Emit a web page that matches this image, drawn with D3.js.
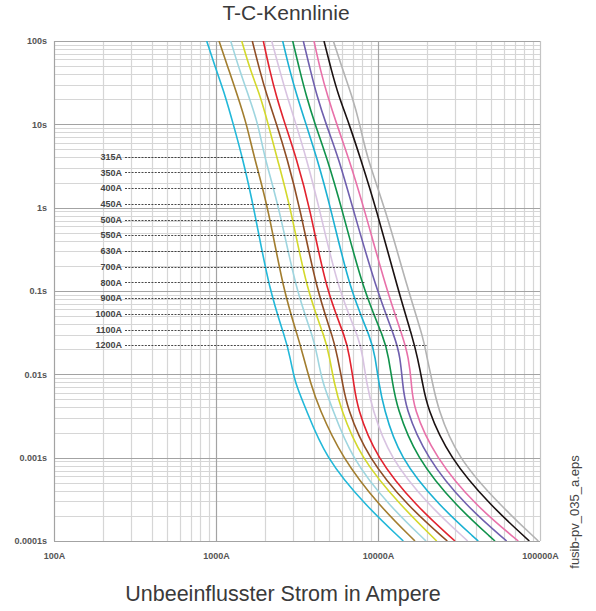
<!DOCTYPE html>
<html>
<head>
<meta charset="utf-8">
<title>T-C-Kennlinie</title>
<script src="https://cdn.jsdelivr.net/npm/d3@7"></script>
<style>
  body { margin: 0; background: #fff; }
  svg { display: block; font-family: "Liberation Sans", Arial, Helvetica, sans-serif; }
  .tick text { font-size: 9px; font-weight: bold; fill: #555; }
  .rating { font-size: 9px; font-weight: bold; fill: #444; }
</style>
</head>
<body>
<svg id="chart" width="596" height="611"></svg>
<script>
  // fuse ratings, one curve each
  var ratings = ["315A", "350A", "400A", "450A", "500A", "550A", "630A",
                 "700A", "800A", "900A", "1000A", "1100A", "1200A"];

  // times (s) at which the currents below were read
  var times = [100, 43, 22.5, 10, 4.06, 1, 0.1, 0.0258, 0.0163, 0.0078, 0.0041, 0.001, 0.000258, 0.0001];

  // prospective current (A) for each rating at the times above
  var cur315  = [876, 1010, 1137, 1279, 1453, 1716, 2133, 2704, 2862, 3074, 3550, 4710, 8515, 14330];
  var cur350  = [1044, 1208, 1354, 1547, 1716, 2103, 2603, 3253, 3458, 3842, 4280, 5970, 10290, 16920];
  var cur400  = [1232, 1406, 1582, 1824, 1987, 2459, 3118, 4044, 4220, 4556, 5180, 6800, 11860, 19790];
  var cur450  = [1441, 1637, 1869, 2103, 2370, 2892, 3630, 4775, 5005, 5373, 5830, 7743, 14010, 23030];
  var cur500  = [1675, 1869, 2056, 2370, 2732, 3300, 4183, 5351, 5608, 6056, 6410, 8600, 15380, 26780];
  var cur550  = [1959, 2154, 2346, 2667, 3118, 3804, 4775, 6410, 6650, 7110, 7386, 9700, 17340, 29880];
  var cur630  = [2207, 2484, 2732, 3118, 3594, 4341, 5687, 7743, 8045, 8515, 9145, 11700, 20940, 35780];
  var cur700  = [2580, 2862, 3149, 3594, 4183, 5105, 6718, 9145, 9583, 10140, 10780, 13480, 24140, 41590];
  var cur800  = [2975, 3300, 3594, 4084, 4824, 5970, 8114, 11050, 11580, 12320, 13040, 17120, 30610, 52750];
  var cur900  = [3458, 3842, 4183, 4775, 5687, 6980, 9817, 12920, 13670, 14210, 14680, 19790, 35280, 62290];
  var cur1000 = [4026, 4430, 4864, 5560, 6557, 8195, 11320, 14470, 15380, 16140, 16370, 22480, 40660, 73450];
  var cur1100 = [4642, 5180, 5687, 6650, 7743, 9720, 13350, 16510, 17480, 18880, 19980, 27440, 50330, 85900];
  var cur1200 = [5298, 6108, 6880, 7743, 8515, 11050, 15380, 19230, 19980, 21760, 23230, 30610, 58000, 97600];

  var currents = [cur315, cur350, cur400, cur450, cur500, cur550, cur630,
                  cur700, cur800, cur900, cur1000, cur1100, cur1200];

  var colors = ["#22b8d9", "#a27d2e", "#9ed5df", "#d3d82b", "#8f4d24", "#e2222e", "#d8c3e1",
                "#1bb1d3", "#10924b", "#6f5fae", "#e870a9", "#1a1111", "#b3b3b3"];

  var xTicks = [100, 1000, 10000, 100000];
  var yTicks = [100, 10, 1, 0.1, 0.01, 0.001, 0.0001];

  var svg = d3.select("#chart");

  var plotLeft = 54, plotRight = 540, plotTop = 41, plotBottom = 541;

  var x = d3.scaleLog().domain([100, 100000]).range([plotLeft, plotRight]);
  var y = d3.scaleLog().domain([100, 0.0001]).range([plotTop, plotBottom]);

  // minor grid values: 2..9 in each decade
  var xMinor = [], yMinor = [];
  xTicks.slice(0, -1).forEach(function(d) {
    for (var k = 2; k < 10; k++) xMinor.push(d * k);
  });
  yTicks.slice(1).forEach(function(d) {
    for (var k = 2; k < 10; k++) yMinor.push(d * k);
  });

  var grid = svg.append("g").attr("class", "grid");

  grid.selectAll("line.xminor").data(xMinor).enter().append("line")
      .attr("x1", function(d) { return Math.round(x(d)) + 0.5; })
      .attr("x2", function(d) { return Math.round(x(d)) + 0.5; })
      .attr("y1", plotTop).attr("y2", plotBottom)
      .attr("stroke", "#d6d6d6").attr("stroke-width", 1.2);

  grid.selectAll("line.yminor").data(yMinor).enter().append("line")
      .attr("y1", function(d) { return Math.round(y(d)) + 0.5; })
      .attr("y2", function(d) { return Math.round(y(d)) + 0.5; })
      .attr("x1", plotLeft).attr("x2", plotRight)
      .attr("stroke", "#d6d6d6").attr("stroke-width", 1.2);

  grid.selectAll("line.xmajor").data(xTicks).enter().append("line")
      .attr("x1", function(d) { return Math.round(x(d)) + 0.5; })
      .attr("x2", function(d) { return Math.round(x(d)) + 0.5; })
      .attr("y1", plotTop).attr("y2", plotBottom)
      .attr("stroke", function(d, i) { return i == xTicks.length - 1 ? "#c4c4c4" : "#a3a3a3"; })
      .attr("stroke-width", 1.2);

  grid.selectAll("line.ymajor").data(yTicks).enter().append("line")
      .attr("y1", function(d) { return Math.round(y(d)) + 0.5; })
      .attr("y2", function(d) { return Math.round(y(d)) + 0.5; })
      .attr("x1", plotLeft).attr("x2", plotRight)
      .attr("stroke", "#a3a3a3").attr("stroke-width", 1.2);

  // axes (labels only, grid does the lines)
  var fmt = d3.format("~g");

  svg.append("g")
      .attr("transform", "translate(" + plotLeft + ",0)")
      .call(d3.axisLeft(y).tickValues(yTicks).tickSize(0).tickPadding(7)
        .tickFormat(function(d) { return fmt(d) + "s"; }))
      .call(function(g) { g.select(".domain").remove(); });

  svg.append("g")
      .attr("transform", "translate(0," + plotBottom + ")")
      .call(d3.axisBottom(x).tickValues(xTicks).tickSize(0).tickPadding(12)
        .tickFormat(function(d) { return fmt(d) + "A"; }))
      .call(function(g) { g.select(".domain").remove(); });

  // curves
  svg.append("clipPath").attr("id", "plot-clip")
    .append("rect")
      .attr("x", plotLeft).attr("y", plotTop)
      .attr("width", plotRight - plotLeft).attr("height", plotBottom - plotTop);

  var line = d3.line()
      .x(function(d) { return x(d[0]); })
      .y(function(d) { return y(d[1]); })
      .curve(d3.curveBasis);

  var curves = svg.append("g").attr("clip-path", "url(#plot-clip)")
    .selectAll("path")
    .data(currents)
    .enter().append("path")
      .attr("fill", "none")
      .attr("stroke", function(d, i) { return colors[i]; })
      .attr("stroke-width", 1.6)
      .attr("d", function(d) {
        return line(d.map(function(c, j) { return [c, times[j]]; }));
      });

  // x position of a curve at a given screen y
  function xAtY(node, yy) {
    var lo = 0, hi = node.getTotalLength();
    for (var i = 0; i < 30; i++) {
      var mid = (lo + hi) / 2;
      if (node.getPointAtLength(mid).y < yy) lo = mid; else hi = mid;
    }
    return node.getPointAtLength(hi).x;
  }

  // rating labels with dashed leaders
  var labelY = d3.scaleLinear().domain([0, ratings.length - 1]).range([156.7, 345.3]);
  var nodes = curves.nodes();

  var lab = svg.append("g").selectAll("g")
    .data(ratings)
    .enter().append("g");

  lab.append("line")
      .attr("x1", 125)
      .attr("x2", function(d, i) { return xAtY(nodes[i], labelY(i)) + 2; })
      .attr("y1", function(d, i) { return Math.round(labelY(i)) + 0.5; })
      .attr("y2", function(d, i) { return Math.round(labelY(i)) + 0.5; })
      .attr("stroke", "#333")
      .attr("stroke-width", 0.9)
      .attr("stroke-dasharray", "2,1.3");

  lab.append("text")
      .attr("class", "rating")
      .attr("x", 122)
      .attr("y", function(d, i) { return labelY(i); })
      .attr("dy", "0.35em")
      .attr("text-anchor", "end")
      .text(function(d) { return d; });

  // titles
  svg.append("text")
      .attr("x", 286).attr("y", 20)
      .attr("text-anchor", "middle")
      .attr("font-size", 21)
      .attr("fill", "#3a3a3a")
      .text("T-C-Kennlinie");

  svg.append("text")
      .attr("x", 283).attr("y", 601)
      .attr("text-anchor", "middle")
      .attr("font-size", 21.5)
      .attr("fill", "#3a3a3a")
      .text("Unbeeinflusster Strom in Ampere");

  svg.append("text")
      .attr("transform", "translate(579,512) rotate(-90)")
      .attr("text-anchor", "middle")
      .attr("font-size", 13)
      .attr("fill", "#444")
      .text("fusib-pv_035_a.eps");
</script>
</body>
</html>
